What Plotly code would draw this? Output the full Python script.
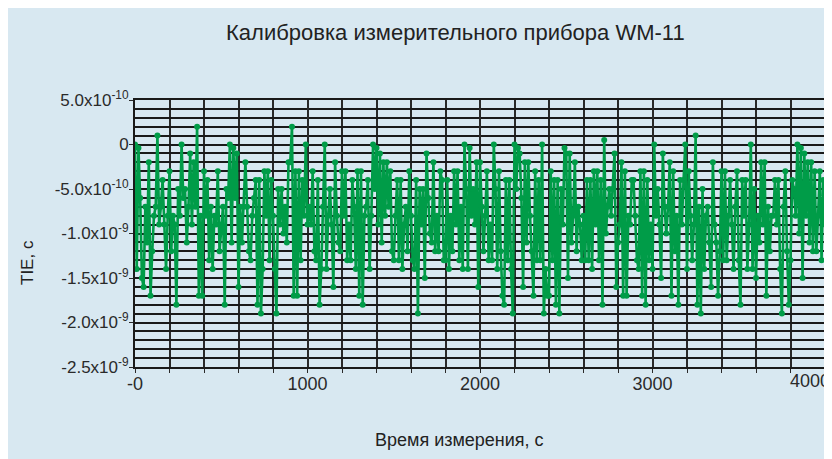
import plotly.graph_objects as go

# Measurement times, s (one sample every 10 s)
time_s = list(range(0, 4010, 10))

# TIE values, in units of 1e-10 s
tie_e10 = [
    0, -14, -0.4, -6, -15, -16, -7, -11, -2, -17,
    -12, -8, -7, 1, -9, -7, -4, -9, -14, -8,
    -3, -12, -8, -9, -18, -5, -8, 0, -6, -5,
    -11, -7, -1, -9, -2, -7, 2, -17, -8, -17,
    -3, -8, -4, -13, -7, -14, -8, -9, -3, -12,
    -9, -7, -18, -5, -6, 0, -11, -0.4, -6, -1,
    -16, -7, -11, -7, -2, -7, -12, -13, -8, -6,
    -4, -18, -4, -19, -14, -3, -8, -3, -13, -4,
    -8, -14, -19, -5, -9, -5, -10, -7, -11, -2,
    -2, 2, -17, -3, -17, -3, -13, -4, -8, 0,
    -9, -7, -9, -3, -12, -13, -4, -18, -14, -7,
    0, -14, -8, -5, -9, -16, -2, -8, -11, -12,
    -3, -8, -3, -13, -9, -13, -4, -7, -14, -3,
    -17, -3, -18, -8, -7, -4, -14, -8, 0, -5,
    -0.4, -9, -1, -11, -2, -8, -2, -7, -3, -12,
    -13, -8, -4, -13, -4, -14, -9, -7, -12, -3,
    -8, -13, -14, -4, -19, -5, -9, -5, -15, -1,
    -6, -10, -11, -2, -12, -8, -12, -3, -4, -13,
    -13, -4, -14, -8, -12, -3, -9, -3, -13, -7,
    -14, 0, -5, -14, -0.4, -8, -5, -9, -2, -16,
    -2, -7, -12, -8, -3, -13, -9, -13, 0, -5,
    -14, -3, -12, -17, -18, -4, -13, -4, -14, -19,
    0, -5, -0.4, -1, -6, -16, -2, -11, -2, -8,
    -12, -17, -3, -13, -4, -13, 0, -19, -14, -17,
    -17, -3, -13, -4, -18, -4, -19, -5, -9, -0.4,
    -1, -15, -1, -11, -8, -2, -12, -7, -9, -13,
    -8, -13, -4, -13, -4, -14, -3, -9, -3, -13,
    -4, -18, 0.5, -10, -7, -5, -8, -5, -1, -16,
    -11, -9, -2, -17, -3, -17, -8, -9, -4, -4,
    -8, -13, -14, -3, -17, -3, -18, -4, -13, -9,
    -14, 0, -8, -5, -9, -15, -1, -7, -10, -7,
    -2, -17, -3, -12, -8, -18, -4, -9, -4, 0,
    -14, -3, -8, -13, -9, 1, -18, -7, -19, -5,
    -14, -8, -7, -11, -16, -2, -9, -11, -17, -12,
    -3, -13, -3, -13, -8, -4, -9, -14, -7, -3,
    -13, -18, -4, -8, -4, -14, -9, 0, -14, -5,
    -15, -8, -11, -2, -9, -2, -17, -7, -12, -8,
    -8, -4, -9, -4, -14, -19, -7, -3, -12, -18,
    -13, -4, -5, -8, 0, -10, -0.4, -15, -1, -8,
    -2, -11, -2, -12, -3, -12, -8, -3, -13, -4,
    -9,
]

y_tickvals = [5e-10, 0, -5e-10, -1e-9, -1.5e-9, -2e-9, -2.5e-9]
y_ticktext = ["5.0x10<sup>-10</sup>", "0", "-5.0x10<sup>-10</sup>", "-1.0x10<sup>-9</sup>",
              "-1.5x10<sup>-9</sup>", "-2.0x10<sup>-9</sup>", "-2.5x10<sup>-9</sup>"]
x_tickvals = [0, 1000, 2000, 3000, 4000]
x_ticktext = ["-0", "1000", "2000", "3000", ""]
x_last_label = "4000"

title_text = "Калибровка измерительного прибора WM-11"
x_title = "Время измерения, с"
y_title = "TIE, c"

FONT = "Liberation Sans, Arial, sans-serif"
BG = "#d8e8f1"
GREEN = "#009c48"
INK = "#2a2a2a"

W, H = 824, 451
L, R, T, B = 127, 7, 92, 92
PW, PH = W - L - R, H - T - B


def px(x):  # figure pixel -> paper fraction (x)
    return (x - L) / PW


def py(y):  # figure pixel -> paper fraction (y)
    return (H - B - y) / PH


tie = [v * 1e-10 for v in tie_e10]

fig = go.Figure()
fig.add_trace(go.Scatter(
    x=time_s, y=tie, mode="lines+markers",
    line=dict(color=GREEN, width=2.6),
    marker=dict(color=GREEN, size=6),
    showlegend=False, cliponaxis=True,
))

fig.update_layout(
    width=W, height=H,
    margin=dict(l=L, r=R, t=T, b=B, autoexpand=False),
    paper_bgcolor=BG,
    plot_bgcolor=BG,
    font=dict(family=FONT, color=INK, size=18),
    showlegend=False,
)

fig.update_xaxes(
    range=[0, 4000], tickvals=x_tickvals, ticktext=x_ticktext,
    showgrid=True, gridcolor=INK, gridwidth=1.5,
    minor=dict(dtick=200, tick0=0, showgrid=True, gridcolor=INK, gridwidth=1.5,
               ticks="outside", ticklen=4, tickcolor=INK),
    ticks="outside", ticklen=4, tickcolor=INK,
    showline=True, linecolor="#1a1a1a", linewidth=2, mirror=True,
    zeroline=False, tickfont=dict(size=18, family=FONT),
    ticklabelstandoff=-5, automargin=False,
)
fig.update_yaxes(
    range=[-2.5e-9, 5e-10], tickvals=y_tickvals, ticktext=y_ticktext,
    showgrid=True, gridcolor="#1a1a1a", gridwidth=1.5,
    minor=dict(dtick=1e-10, tick0=0, showgrid=True, gridcolor="#1a1a1a", gridwidth=1.5),
    ticks="outside", ticklen=4, tickcolor=INK,
    showline=True, linecolor="#1a1a1a", linewidth=2, mirror=True,
    zeroline=False, tickfont=dict(size=17, family=FONT),
    ticklabelstandoff=-3, automargin=False,
)

# last x tick label, kept inside the page like in the reference
fig.add_annotation(text=x_last_label, xref="x", x=4000, yref="paper", y=py(373),
                   xanchor="right", yanchor="middle", xshift=7, showarrow=False,
                   font=dict(size=18, family=FONT, color=INK))

fig.add_annotation(text=title_text, xref="paper", yref="paper",
                   x=px(447), y=py(24), xanchor="center", yanchor="middle",
                   showarrow=False, font=dict(size=22, family=FONT, color="#222"))
fig.add_annotation(text=x_title, xref="paper", yref="paper",
                   x=px(451), y=py(432), xanchor="center", yanchor="middle",
                   showarrow=False, font=dict(size=18, family=FONT, color="#222"))
fig.add_annotation(text=y_title, xref="paper", yref="paper",
                   x=px(20), y=py(254), xanchor="center", yanchor="middle",
                   textangle=-90, showarrow=False, font=dict(size=17, family=FONT, color="#222"))

fig.write_html("out.html")
